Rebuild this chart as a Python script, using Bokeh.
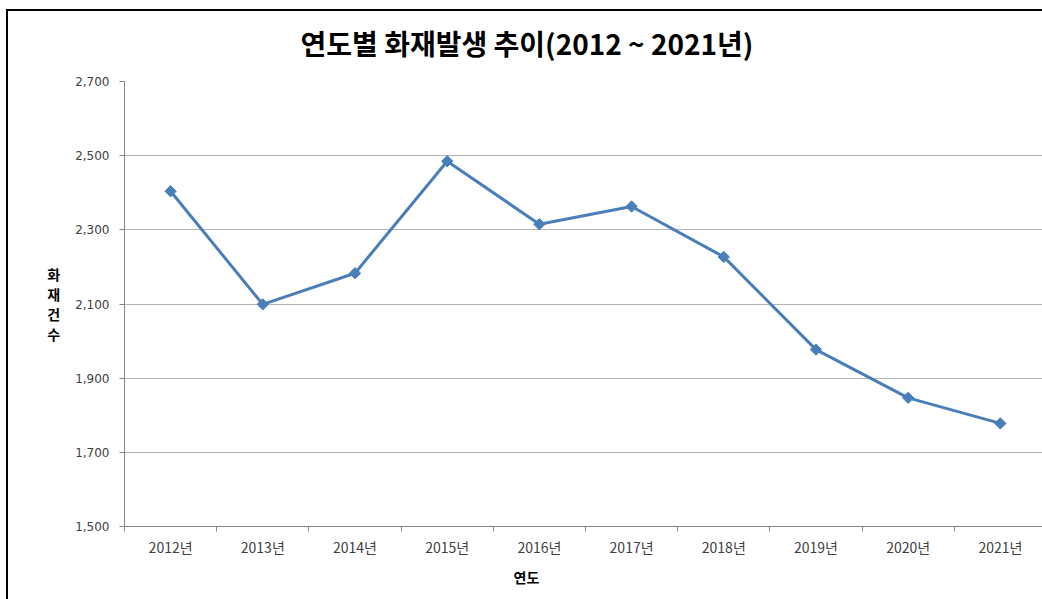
import math
from bokeh.plotting import figure
from bokeh.models import Title, FixedTicker, NumeralTickFormatter, Range1d
from bokeh.embed import file_html
from bokeh.resources import INLINE

# ---- data ----
years = ["2012년", "2013년", "2014년", "2015년", "2016년",
         "2017년", "2018년", "2019년", "2020년", "2021년"]
fires = [2404, 2099, 2183, 2485, 2315, 2363, 2227, 1977, 1847, 1778]
y_ticks = [1500, 1700, 1900, 2100, 2300, 2500, 2700]
title_text = "연도별 화재발생 추이(2012 ~ 2021년)"
x_title = "연도"
y_title = "화\n재\n건\n수"

# category centres on a numeric axis (one unit per category)
xs = [i + 0.5 for i in range(len(years))]

BLUE = "#4a7ebb"
GRID = "#b3b3b3"
AXIS = "#868686"
TXT = "#404040"
KFONT = "Noto Sans CJK KR"

p = figure(width=1042, height=599, output_backend="svg", toolbar_location=None,
           x_range=Range1d(0, 9.957), y_range=Range1d(y_ticks[0], y_ticks[-1]),
           min_border_left=124, min_border_right=0, min_border_top=81,
           min_border_bottom=73)
p.outline_line_color = None
p.background_fill_color = "white"
p.border_fill_color = None
p.styles = {"background": "linear-gradient(#000,#000) 6px 9px / 2px 100% no-repeat, "
                          "linear-gradient(#000,#000) 6px 9px / 100% 2px no-repeat, #fff"}

# title
p.title.text = title_text
p.title.text_font = KFONT
p.title.text_font_size = "28px"
p.title.text_font_style = "bold"
p.title.text_color = "black"
p.title.align = "left"
p.title.offset = 176
p.title.standoff = 37

# axes
p.yaxis.ticker = FixedTicker(ticks=y_ticks, minor_ticks=[])
p.yaxis.formatter = NumeralTickFormatter(format="0,0")
p.yaxis.axis_line_color = AXIS
p.yaxis.major_tick_line_color = AXIS
p.yaxis.major_tick_out = 5
p.yaxis.major_tick_in = 0
p.yaxis.major_label_standoff = 10
p.yaxis.major_label_text_font = "DejaVu Sans"
p.yaxis.major_label_text_font_size = "12px"
p.yaxis.major_label_text_color = TXT
p.yaxis.axis_label = y_title
p.yaxis.axis_label_orientation = "horizontal"
p.yaxis.axis_label_text_font = KFONT
p.yaxis.axis_label_text_font_size = "14px"
p.yaxis.axis_label_text_font_style = "bold"
p.yaxis.axis_label_text_color = "black"
p.yaxis.axis_label_text_line_height = 1.0
p.yaxis.axis_label_standoff = 12

p.xaxis.ticker = FixedTicker(ticks=xs, minor_ticks=list(range(len(years) + 1)))
p.xaxis.major_label_overrides = {x: y for x, y in zip(xs, years)}
p.xaxis.axis_line_color = AXIS
p.xaxis.major_tick_line_color = None
p.xaxis.major_tick_out = 0
p.xaxis.major_tick_in = 0
p.xaxis.minor_tick_line_color = AXIS
p.xaxis.minor_tick_out = 5
p.xaxis.minor_tick_in = 0
p.xaxis.major_label_standoff = 5
p.xaxis.major_label_text_font = KFONT
p.xaxis.major_label_text_font_size = "14px"
p.xaxis.major_label_text_color = TXT

p.add_layout(Title(text=x_title, align="left", offset=389, standoff=10,
                   text_font=KFONT, text_font_size="14px",
                   text_font_style="bold", text_color="black"), "below")

p.xgrid.grid_line_color = None
p.ygrid.grid_line_color = GRID
p.ygrid.grid_line_width = 1

# series
p.line(xs, fires, line_color=BLUE, line_width=3)
p.scatter(xs, fires, marker="square", angle=math.pi / 4, size=8,
          fill_color=BLUE, line_color=BLUE)

open("out.html", "w").write(file_html(p, INLINE))
